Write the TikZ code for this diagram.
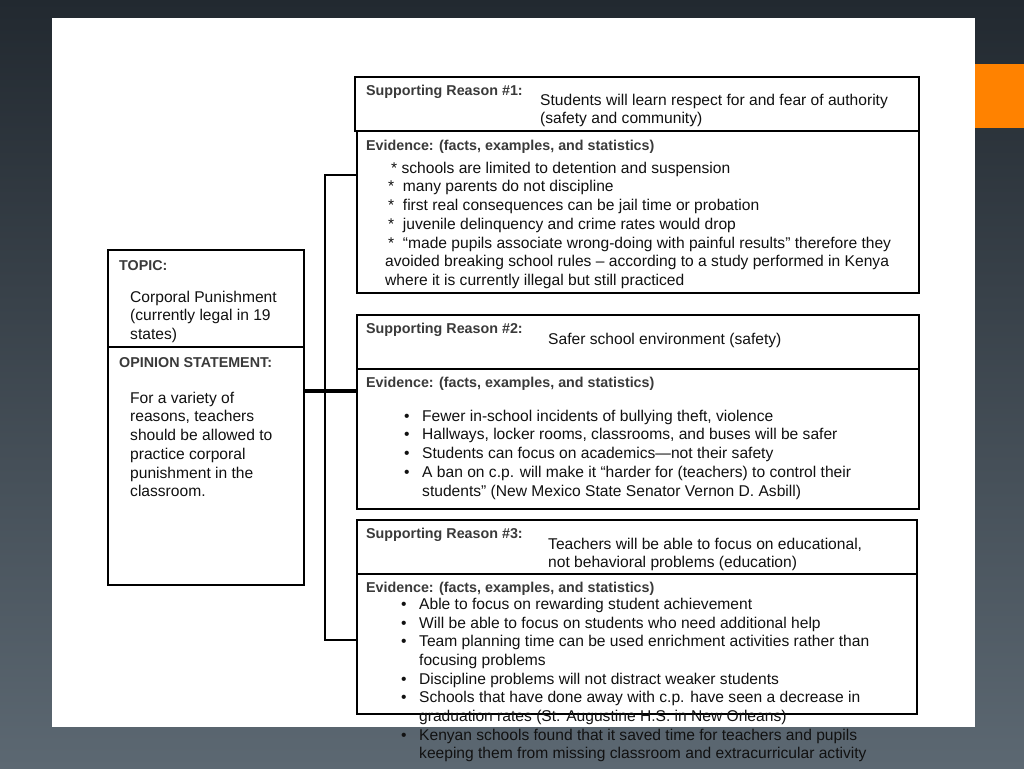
\documentclass[tikz,border=0pt]{standalone}
\usepackage{fontspec}
\setmainfont{Liberation Sans}
\definecolor{bgtop}{RGB}{34,41,48}
\definecolor{bgbot}{RGB}{92,104,114}
\definecolor{accent}{RGB}{255,130,0}
\definecolor{labelgray}{RGB}{58,58,58}
\definecolor{bodyblack}{RGB}{17,17,17}
\tikzset{
  box/.style={draw=black, line width=2.5pt, rectangle, inner sep=0pt, outer sep=0pt, anchor=north west},
  lbl/.style={anchor=west, inner sep=0pt, text=labelgray, font=\fontsize{14.3}{16}\selectfont\bfseries},
  body/.style={anchor=north west, inner sep=0pt, align=left, text=bodyblack, font=\fontsize{15.6}{18.7}\selectfont},
  conn/.style={draw=black, line width=2.5pt},
  thickconn/.style={draw=black, line width=4.5pt}
}
\newcommand{\bul}{\makebox[18pt][l]{•}}
\newcommand{\cont}{\hspace*{18pt}}
\begin{document}
\begin{tikzpicture}[x=1pt,y=-1pt]
\useasboundingbox (0,0) rectangle (1024,768);
\shade[top color=bgtop, bottom color=bgbot] (0,0) rectangle (1024,768);
\fill[white] (52,18) rectangle (975,727);
\fill[accent] (975,64) rectangle (1024,128);

% left boxes
\node[box, minimum width=196pt, minimum height=97pt] (topic) at (108,250) {};
\node[box, minimum width=196pt, minimum height=238pt] (opinion) at (108,347) {};

% right boxes
\node[box, minimum width=564pt, minimum height=54pt] (sr1) at (355,77) {};
\node[box, minimum width=562pt, minimum height=162pt] (ev1) at (357,131) {};
\node[box, minimum width=562pt, minimum height=54pt] (sr2) at (357,315) {};
\node[box, minimum width=562pt, minimum height=140pt] (ev2) at (357,369) {};
\node[box, minimum width=560pt, minimum height=54pt] (sr3) at (357,520) {};
\node[box, minimum width=560pt, minimum height=140pt] (ev3) at (357,574) {};

% connectors
\coordinate (j1) at (325,175);
\coordinate (j2) at (325,391);
\coordinate (j3) at (325,640);
\draw[conn] (ev1.west |- j1) -- (j1) -- (j3) -- (ev3.west |- j3);
\draw[thickconn] (opinion.east |- j2) -- (ev2.west |- j2);

% left texts
\node[lbl] (topiclbl) at (119,266) {TOPIC:};
\node[body] (topictxt) at (130,289) {\strut Corporal Punishment\\(currently legal in 19\\states)};
\node[lbl] (oplbl) at (119,363) {OPINION STATEMENT:};
\node[body] (optxt) at (130,390) {\strut For a variety of\\reasons, teachers\\should be allowed to\\practice corporal\\punishment in the\\classroom.};

% reason 1
\node[lbl] (sr1lbl) at (366,92) {Supporting Reason \#1:};
\node[body] (sr1txt) at (540,92) {\strut Students will learn respect for and fear of authority\\(safety and community)};
\node[lbl] (ev1lbl) at (366,147) {Evidence: (facts, examples, and statistics)};
\node[body] (ev1txt) at (385,160) {\strut\hspace*{6pt}* schools are limited to detention and suspension\\
\hspace*{3pt}*\ \ many parents do not discipline\\
\hspace*{3pt}*\ \ first real consequences can be jail time or probation\\
\hspace*{3pt}*\ \ juvenile delinquency and crime rates would drop\\
\hspace*{3pt}*\ \ “made pupils associate wrong-doing with painful results” therefore they\\
avoided breaking school rules – according to a study performed in Kenya\\
where it is currently illegal but still practiced};

% reason 2
\node[lbl] (sr2lbl) at (366,330) {Supporting Reason \#2:};
\node[body] (sr2txt) at (548,331) {\strut Safer school environment (safety)};
\node[lbl] (ev2lbl) at (366,384) {Evidence: (facts, examples, and statistics)};
\node[body] (ev2txt) at (404,408) {\strut\bul Fewer in-school incidents of bullying theft, violence\\
\bul Hallways, locker rooms, classrooms, and buses will be safer\\
\bul Students can focus on academics—not their safety\\
\bul A ban on c.p. will make it “harder for (teachers) to control their\\
\cont students” (New Mexico State Senator Vernon D. Asbill)};

% reason 3
\node[lbl] (sr3lbl) at (366,535) {Supporting Reason \#3:};
\node[body] (sr3txt) at (548,536) {\strut Teachers will be able to focus on educational,\\not behavioral problems (education)};
\node[lbl] (ev3lbl) at (366,589) {Evidence: (facts, examples, and statistics)};
\node[body] (ev3txt) at (401,596) {\strut\bul Able to focus on rewarding student achievement\\
\bul Will be able to focus on students who need additional help\\
\bul Team planning time can be used enrichment activities rather than\\
\cont focusing problems\\
\bul Discipline problems will not distract weaker students\\
\bul Schools that have done away with c.p. have seen a decrease in\\
\cont graduation rates (St. Augustine H.S. in New Orleans)\\
\bul Kenyan schools found that it saved time for teachers and pupils\\
\cont keeping them from missing classroom and extracurricular activity};
\end{tikzpicture}
\end{document}
